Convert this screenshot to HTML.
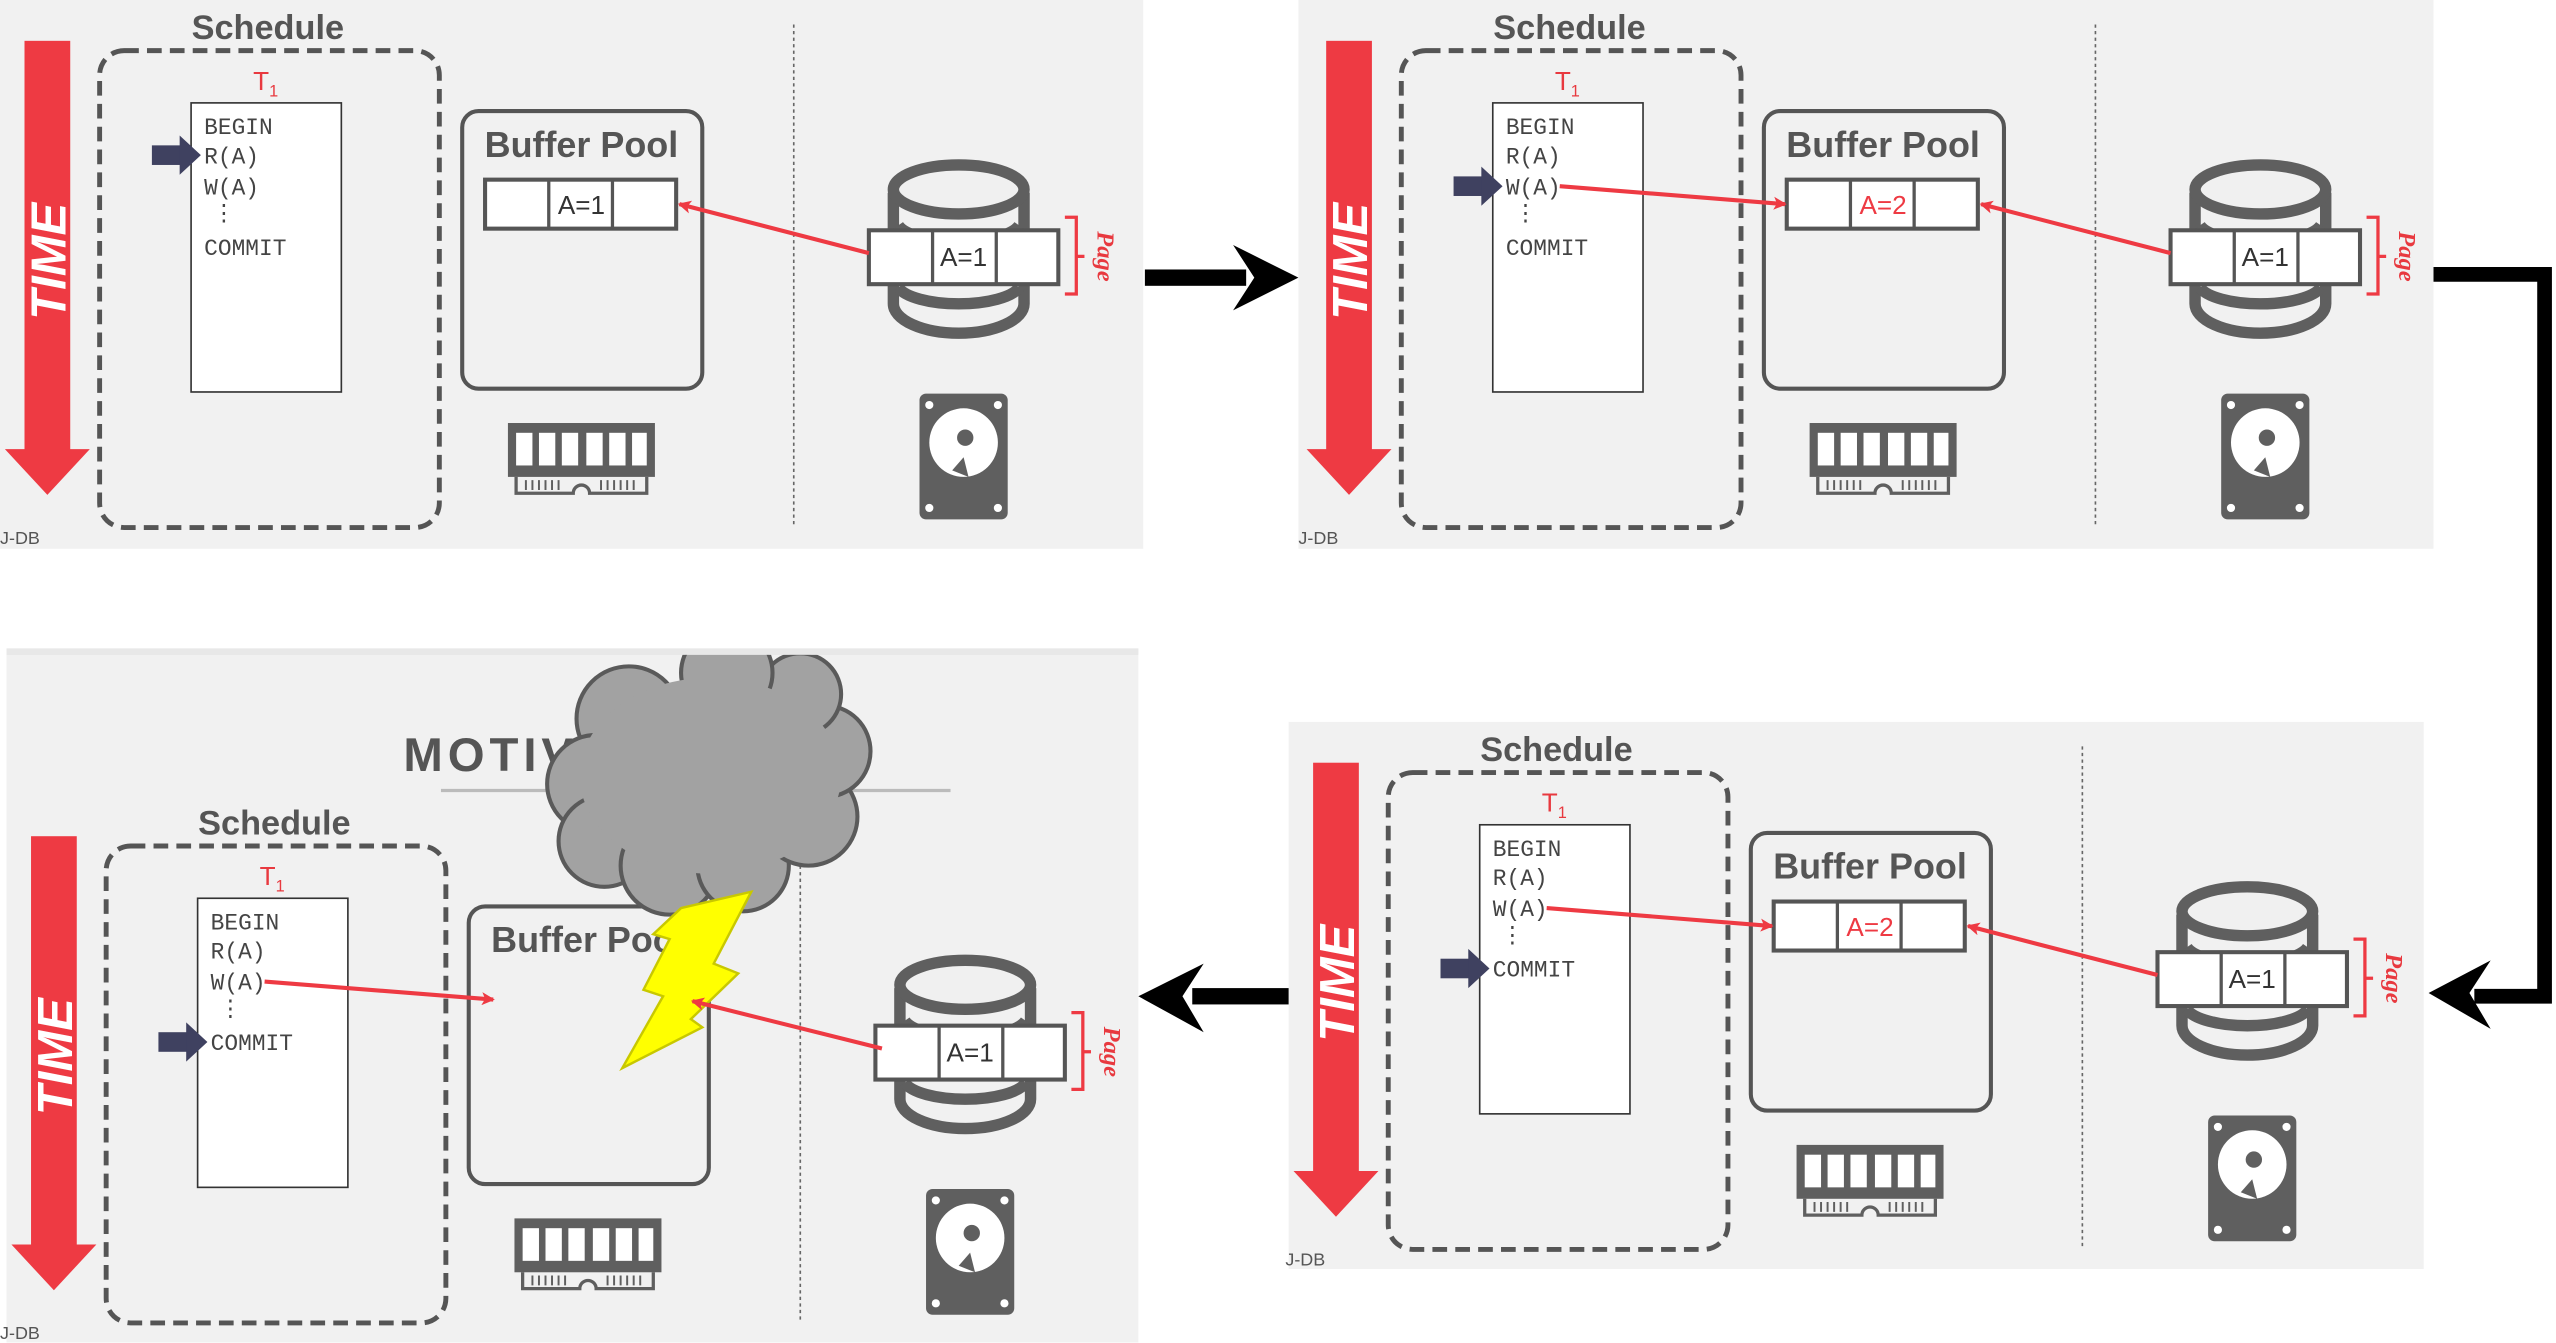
<!DOCTYPE html>
<html><head><meta charset="utf-8"><style>
html,body{margin:0;padding:0;background:#fff;width:2556px;height:1343px;overflow:hidden}
svg{display:block}
.sch{font-family:"Liberation Sans Narrow","Liberation Sans",sans-serif;font-weight:bold;fill:#555;font-size:21px}
.bp{font-family:"Liberation Sans Narrow","Liberation Sans",sans-serif;font-weight:bold;fill:#555;font-size:22px}
.mono{font-family:"Liberation Mono",monospace;font-size:14px;fill:#444}
.t1{font-family:"Liberation Sans Narrow","Liberation Sans",sans-serif;fill:#e8393f;font-size:16px}
.cell{font-family:"Liberation Sans Narrow","Liberation Sans",sans-serif;font-size:16px;fill:#333}
.page{font-family:"Liberation Serif",serif;font-style:italic;font-weight:bold;fill:#e8393f;font-size:15px}
.time{font-family:"Liberation Sans",sans-serif;font-style:italic;font-weight:bold;fill:#fff;font-size:30px}
.jdb{font-family:"Liberation Sans Narrow","Liberation Sans",sans-serif;fill:#555;font-size:11px}
</style></head><body>
<svg width="2556" height="1343" viewBox="0 0 1565 822.3" preserveAspectRatio="none" xmlns="http://www.w3.org/2000/svg">
<defs>
<clipPath id="cc"><rect x="300" y="401" width="260" height="200"/></clipPath>
<g id="timearrow"><rect x="15" y="25" width="28" height="252" fill="#ee3a43"/><polygon points="3,275 55,275 29,303" fill="#ee3a43"/></g>
<g id="cyl">
<path d="M547,118 V186 A40,18 0 0 0 627,186 V118" fill="none" stroke="#5f5f5f" stroke-width="7"/>
<ellipse cx="587" cy="116" rx="40" ry="15" fill="#f0f0f0" stroke="#5f5f5f" stroke-width="7"/>
<path d="M550,176 A38,13 0 0 0 624,176" fill="none" stroke="#5f5f5f" stroke-width="7"/>
<path d="M550,138 A38,13 0 0 0 624,138" fill="none" stroke="#5f5f5f" stroke-width="7"/>
</g>
<g id="ram">
<rect x="311" y="259" width="90" height="33" fill="#5f5f5f"/>
<rect x="316" y="265" width="10" height="20" fill="#fff"/><rect x="330" y="265" width="10" height="20" fill="#fff"/><rect x="344" y="265" width="10" height="20" fill="#fff"/>
<rect x="359" y="265" width="10" height="20" fill="#fff"/><rect x="373" y="265" width="10" height="20" fill="#fff"/><rect x="387" y="265" width="9" height="20" fill="#fff"/>
<path d="M316,292 V302 H351 A5,5 0 0 1 361,302 H396 V292" fill="none" stroke="#5f5f5f" stroke-width="2"/>
<path d="M322,294 V300 M326,294 V300 M330,294 V300 M334,294 V300 M338,294 V300 M342,294 V300 M368,294 V300 M372,294 V300 M376,294 V300 M380,294 V300 M384,294 V300 M388,294 V300" stroke="#5f5f5f" stroke-width="1.2"/>
</g>
<g id="hdd">
<rect x="563" y="241" width="54" height="77" rx="4" fill="#5f5f5f"/>
<circle cx="590" cy="271" r="21" fill="#fff"/><circle cx="591" cy="268" r="5" fill="#5f5f5f"/>
<path d="M583,288 L590,280 L593,292 Z" fill="#5f5f5f"/>
<circle cx="569" cy="248" r="2.5" fill="#fff"/><circle cx="611" cy="248" r="2.5" fill="#fff"/>
<circle cx="569" cy="311" r="2.5" fill="#fff"/><circle cx="611" cy="311" r="2.5" fill="#fff"/>
</g>
<g id="ptr"><rect x="93" y="-6" width="20" height="12" fill="#3f4160"/><polygon points="110,-12 123,0 110,12" fill="#3f4160"/></g>
<marker id="rh" markerWidth="8" markerHeight="8" refX="7" refY="4" orient="auto" markerUnits="userSpaceOnUse"><path d="M0,0 L8,4 L0,8 L2,4 Z" fill="#ee3a43"/></marker>
</defs>

<!-- Panel 1 -->
<g>
<rect x="0" y="0" width="700" height="336" fill="#f1f1f1"/>
<use href="#timearrow"/>
<text class="time" transform="translate(40,160) rotate(-90)" text-anchor="middle">TIME</text>
<text class="sch" x="164" y="24" text-anchor="middle">Schedule</text>
<rect x="61" y="31" width="208" height="292" rx="15" fill="none" stroke="#555" stroke-width="3" stroke-dasharray="9,5"/>
<text class="t1" x="155" y="55">T<tspan font-size="10" dy="4">1</tspan></text>
<rect x="117" y="63" width="92" height="177" fill="#fff" stroke="#333" stroke-width="1"/>
<text class="mono" x="125" y="82">BEGIN</text><text class="mono" x="125" y="100">R(A)</text><text class="mono" x="125" y="119">W(A)</text><text class="mono" x="130" y="135">⋮</text><text class="mono" x="125" y="156">COMMIT</text>
<use href="#ptr" y="95"/>
<rect x="283" y="68" width="147" height="170" rx="10" fill="none" stroke="#555" stroke-width="2.5"/>
<text class="bp" x="356" y="96" text-anchor="middle">Buffer Pool</text>
<rect x="297" y="110" width="117" height="30" fill="#fff" stroke="#555" stroke-width="2.5"/><path d="M336,110V140M375,110V140" stroke="#555" stroke-width="2"/>
<text class="cell" x="356" y="131" text-anchor="middle">A=1</text>
<line x1="486" y1="15" x2="486" y2="323" stroke="#666" stroke-width="1" stroke-dasharray="2,2"/>
<use href="#cyl"/>
<rect x="532" y="141" width="116" height="33" fill="#fff" stroke="#555" stroke-width="2.5"/><path d="M571,141V174M610,141V174" stroke="#555" stroke-width="2"/>
<text class="cell" x="590" y="163" text-anchor="middle">A=1</text>
<path d="M652,133 H659 V180 H652 M659,157 H664" fill="none" stroke="#ee3a43" stroke-width="2"/>
<text class="page" transform="translate(672,157) rotate(90)" text-anchor="middle">Page</text>
<line x1="532" y1="155" x2="416" y2="125" stroke="#ee3a43" stroke-width="2.5" marker-end="url(#rh)"/>
<use href="#ram"/><use href="#hdd"/>
<text class="jdb" x="0" y="333">J-DB</text>
</g>

<!-- Panel 2 -->
<rect x="795" y="0" width="695" height="336" fill="#f1f1f1"/>
<g transform="translate(797,0)">
<use href="#timearrow"/>
<text class="time" transform="translate(40,160) rotate(-90)" text-anchor="middle">TIME</text>
<text class="sch" x="164" y="24" text-anchor="middle">Schedule</text>
<rect x="61" y="31" width="208" height="292" rx="15" fill="none" stroke="#555" stroke-width="3" stroke-dasharray="9,5"/>
<text class="t1" x="155" y="55">T<tspan font-size="10" dy="4">1</tspan></text>
<rect x="117" y="63" width="92" height="177" fill="#fff" stroke="#333" stroke-width="1"/>
<text class="mono" x="125" y="82">BEGIN</text><text class="mono" x="125" y="100">R(A)</text><text class="mono" x="125" y="119">W(A)</text><text class="mono" x="130" y="135">⋮</text><text class="mono" x="125" y="156">COMMIT</text>
<use href="#ptr" y="114"/>
<rect x="283" y="68" width="147" height="170" rx="10" fill="none" stroke="#555" stroke-width="2.5"/>
<text class="bp" x="356" y="96" text-anchor="middle">Buffer Pool</text>
<rect x="297" y="110" width="117" height="30" fill="#fff" stroke="#555" stroke-width="2.5"/><path d="M336,110V140M375,110V140" stroke="#555" stroke-width="2"/>
<text class="cell" x="356" y="131" text-anchor="middle" style="fill:#ee3a43">A=2</text>
<line x1="486" y1="15" x2="486" y2="323" stroke="#666" stroke-width="1" stroke-dasharray="2,2"/>
<use href="#cyl"/>
<rect x="532" y="141" width="116" height="33" fill="#fff" stroke="#555" stroke-width="2.5"/><path d="M571,141V174M610,141V174" stroke="#555" stroke-width="2"/>
<text class="cell" x="590" y="163" text-anchor="middle">A=1</text>
<path d="M652,133 H659 V180 H652 M659,157 H664" fill="none" stroke="#ee3a43" stroke-width="2"/>
<text class="page" transform="translate(672,157) rotate(90)" text-anchor="middle">Page</text>
<line x1="532" y1="155" x2="416" y2="125" stroke="#ee3a43" stroke-width="2.5" marker-end="url(#rh)"/>
<line x1="158" y1="114" x2="296" y2="125" stroke="#ee3a43" stroke-width="2.5" marker-end="url(#rh)"/>
<use href="#ram"/><use href="#hdd"/>
<text class="jdb" x="-2" y="333">J-DB</text>
</g>

<!-- Panel 4 (bottom right) -->
<rect x="789" y="442" width="695" height="335" fill="#f1f1f1"/>
<g transform="translate(789,442)">
<use href="#timearrow"/>
<text class="time" transform="translate(40,160) rotate(-90)" text-anchor="middle">TIME</text>
<text class="sch" x="164" y="24" text-anchor="middle">Schedule</text>
<rect x="61" y="31" width="208" height="292" rx="15" fill="none" stroke="#555" stroke-width="3" stroke-dasharray="9,5"/>
<text class="t1" x="155" y="55">T<tspan font-size="10" dy="4">1</tspan></text>
<rect x="117" y="63" width="92" height="177" fill="#fff" stroke="#333" stroke-width="1"/>
<text class="mono" x="125" y="82">BEGIN</text><text class="mono" x="125" y="100">R(A)</text><text class="mono" x="125" y="119">W(A)</text><text class="mono" x="130" y="135">⋮</text><text class="mono" x="125" y="156">COMMIT</text>
<use href="#ptr" y="151"/>
<rect x="283" y="68" width="147" height="170" rx="10" fill="none" stroke="#555" stroke-width="2.5"/>
<text class="bp" x="356" y="96" text-anchor="middle">Buffer Pool</text>
<rect x="297" y="110" width="117" height="30" fill="#fff" stroke="#555" stroke-width="2.5"/><path d="M336,110V140M375,110V140" stroke="#555" stroke-width="2"/>
<text class="cell" x="356" y="131" text-anchor="middle" style="fill:#ee3a43">A=2</text>
<line x1="486" y1="15" x2="486" y2="323" stroke="#666" stroke-width="1" stroke-dasharray="2,2"/>
<use href="#cyl"/>
<rect x="532" y="141" width="116" height="33" fill="#fff" stroke="#555" stroke-width="2.5"/><path d="M571,141V174M610,141V174" stroke="#555" stroke-width="2"/>
<text class="cell" x="590" y="163" text-anchor="middle">A=1</text>
<path d="M652,133 H659 V180 H652 M659,157 H664" fill="none" stroke="#ee3a43" stroke-width="2"/>
<text class="page" transform="translate(672,157) rotate(90)" text-anchor="middle">Page</text>
<line x1="532" y1="155" x2="416" y2="125" stroke="#ee3a43" stroke-width="2.5" marker-end="url(#rh)"/>
<line x1="158" y1="114" x2="296" y2="125" stroke="#ee3a43" stroke-width="2.5" marker-end="url(#rh)"/>
<use href="#ram"/><use href="#hdd"/>
<text class="jdb" x="-2" y="333">J-DB</text>
</g>

<!-- Panel 3 (bottom left) -->
<rect x="4" y="397" width="693" height="425" fill="#f1f1f1"/>
<rect x="4" y="397" width="693" height="4" fill="#e8e8e8"/>
<text x="247" y="472" font-family="Liberation Sans, sans-serif" font-weight="bold" font-size="29" fill="#555" letter-spacing="3">MOTIVATION</text>
<line x1="270" y1="484" x2="582" y2="484" stroke="#bbb" stroke-width="2"/>
<g transform="translate(4,487)">
<use href="#timearrow"/>
<text class="time" transform="translate(40,160) rotate(-90)" text-anchor="middle">TIME</text>
<text class="sch" x="164" y="24" text-anchor="middle">Schedule</text>
<rect x="61" y="31" width="208" height="292" rx="15" fill="none" stroke="#555" stroke-width="3" stroke-dasharray="9,5"/>
<text class="t1" x="155" y="55">T<tspan font-size="10" dy="4">1</tspan></text>
<rect x="117" y="63" width="92" height="177" fill="#fff" stroke="#333" stroke-width="1"/>
<text class="mono" x="125" y="82">BEGIN</text><text class="mono" x="125" y="100">R(A)</text><text class="mono" x="125" y="119">W(A)</text><text class="mono" x="130" y="135">⋮</text><text class="mono" x="125" y="156">COMMIT</text>
<use href="#ptr" y="151"/>
<rect x="283" y="68" width="147" height="170" rx="10" fill="none" stroke="#555" stroke-width="2.5"/>
<text class="bp" x="356" y="96" text-anchor="middle">Buffer Pool</text>
<line x1="486" y1="15" x2="486" y2="323" stroke="#666" stroke-width="1" stroke-dasharray="2,2"/>
<use href="#cyl"/>
<rect x="532" y="141" width="116" height="33" fill="#fff" stroke="#555" stroke-width="2.5"/><path d="M571,141V174M610,141V174" stroke="#555" stroke-width="2"/>
<text class="cell" x="590" y="163" text-anchor="middle">A=1</text>
<path d="M652,133 H659 V180 H652 M659,157 H664" fill="none" stroke="#ee3a43" stroke-width="2"/>
<text class="page" transform="translate(672,157) rotate(90)" text-anchor="middle">Page</text>
<line x1="158" y1="114" x2="298" y2="125" stroke="#ee3a43" stroke-width="2.5" marker-end="url(#rh)"/>
<use href="#ram"/><use href="#hdd"/>
<text class="jdb" x="-4" y="333">J-DB</text>
</g>
<!-- cloud -->
<g clip-path="url(#cc)">
<g fill="#a2a2a2" stroke="#5a5a5a" stroke-width="2.5">
<circle cx="385" cy="440" r="32"/>
<circle cx="365" cy="480" r="30"/>
<circle cx="370" cy="515" r="28"/>
<circle cx="410" cy="530" r="30"/>
<circle cx="455" cy="530" r="28"/>
<circle cx="495" cy="500" r="30"/>
<circle cx="505" cy="460" r="28"/>
<circle cx="490" cy="425" r="25"/>
<circle cx="445" cy="412" r="28"/>
</g>
<ellipse cx="435" cy="475" rx="80" ry="60" fill="#a2a2a2"/>
</g>
<polygon points="417,556 460,546 437,590 452,596 423,624 430,629 381,654 406,610 394,606 410,575 400,572" fill="#ffff00" stroke="#c8c800" stroke-width="1.5"/>
<line x1="540" y1="642" x2="424" y2="613" stroke="#ee3a43" stroke-width="2.5" marker-end="url(#rh)"/>

<!-- connectors -->
<g fill="#000">
<rect x="701" y="165" width="62" height="10"/>
<polygon points="795,170 755,150 768,170 755,190"/>
<path d="M1490,168 H1558 V610 H1515" fill="none" stroke="#000" stroke-width="9"/>
<polygon points="1487,608 1525,588 1512,608 1525,630"/>
<rect x="730" y="605" width="59" height="10"/>
<polygon points="697,610 737,590 724,610 737,632"/>
</g>
</svg>
</body></html>
